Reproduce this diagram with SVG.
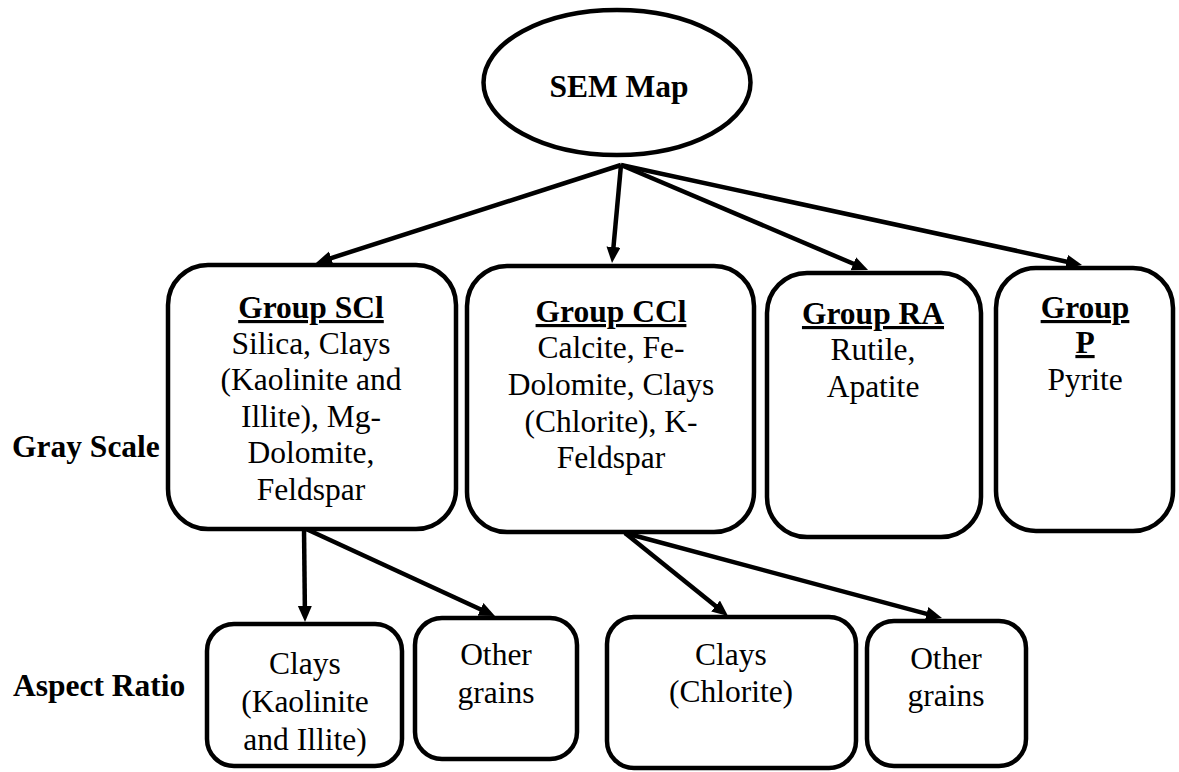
<svg xmlns="http://www.w3.org/2000/svg" width="1179" height="772" viewBox="0 0 1179 772" font-family="'Liberation Serif', 'DejaVu Serif', serif">
<style>
  .shape { fill: #ffffff; stroke: #000000; stroke-width: 4.5; }
  .conn { stroke: #000000; stroke-width: 4.5; fill: none; marker-end: url(#arrow); }
  text { font-size: 31.5px; fill: #000000; text-anchor: middle; }
  .b { font-weight: bold; }
  .u { font-weight: bold; text-decoration: underline; text-decoration-thickness: 3px; }
  .side { text-anchor: start; font-weight: bold; }
</style>
<defs>
  <marker id="arrow" markerUnits="userSpaceOnUse" markerWidth="17" markerHeight="15" refX="4" refY="7" orient="auto">
    <path d="M0,0 L16,7 L0,14 z" fill="#000000"/>
  </marker>
</defs>
<rect width="1179" height="772" fill="#ffffff"/>

<g id="connectors">
  <line class="conn" x1="621" y1="165" x2="327.4" y2="259.3"/>
  <line class="conn" x1="621" y1="165" x2="613.1" y2="251"/>
  <line class="conn" x1="621" y1="165" x2="857" y2="265.3"/>
  <line class="conn" x1="621" y1="165" x2="1070.3" y2="262.5"/>
  <line class="conn" x1="304" y1="528" x2="304.9" y2="610"/>
  <line class="conn" x1="304" y1="528" x2="484.1" y2="611"/>
  <line class="conn" x1="625" y1="533" x2="718.7" y2="608.5"/>
  <line class="conn" x1="625" y1="533" x2="930.4" y2="614.9"/>
</g>

<g id="sem-map">
  <ellipse class="shape" cx="617" cy="82.5" rx="133.5" ry="72.5"/>
  <text class="b" x="619" y="97">SEM Map</text>
</g>

<g id="group-scl">
  <rect class="shape" x="168" y="265" width="288" height="264" rx="40" ry="40"/>
  <text class="u" x="311" y="318">Group SCl</text>
  <text x="311" y="354">Silica, Clays</text>
  <text x="311" y="390">(Kaolinite and</text>
  <text x="311" y="427">Illite), Mg-</text>
  <text x="311" y="463">Dolomite,</text>
  <text x="311" y="500">Feldspar</text>
</g>

<g id="group-ccl">
  <rect class="shape" x="467" y="266" width="287" height="266" rx="40" ry="40"/>
  <text class="u" x="611" y="322">Group CCl</text>
  <text x="611" y="358">Calcite, Fe-</text>
  <text x="611" y="395">Dolomite, Clays</text>
  <text x="611" y="432">(Chlorite), K-</text>
  <text x="611" y="468">Feldspar</text>
</g>

<g id="group-ra">
  <rect class="shape" x="767" y="273" width="214" height="264" rx="40" ry="40"/>
  <text class="u" x="873" y="324">Group RA</text>
  <text x="873" y="360">Rutile,</text>
  <text x="873" y="397">Apatite</text>
</g>

<g id="group-p">
  <rect class="shape" x="996" y="268" width="177" height="263" rx="40" ry="40"/>
  <text class="u" x="1085" y="318">Group</text>
  <text class="u" x="1085" y="353">P</text>
  <text x="1085" y="390">Pyrite</text>
</g>

<g id="clays-kaolinite-illite">
  <rect class="shape" x="207" y="624" width="195" height="142" rx="27" ry="27"/>
  <text x="305" y="674">Clays</text>
  <text x="305" y="712">(Kaolinite</text>
  <text x="305" y="750">and Illite)</text>
</g>

<g id="other-grains-1">
  <rect class="shape" x="415" y="618" width="162" height="141" rx="27" ry="27"/>
  <text x="496" y="665">Other</text>
  <text x="496" y="703">grains</text>
</g>

<g id="clays-chlorite">
  <rect class="shape" x="607" y="617" width="249" height="151" rx="27" ry="27"/>
  <text x="731" y="665">Clays</text>
  <text x="731" y="702">(Chlorite)</text>
</g>

<g id="other-grains-2">
  <rect class="shape" x="867" y="621" width="159" height="145" rx="27" ry="27"/>
  <text x="946" y="669">Other</text>
  <text x="946" y="706">grains</text>
</g>

<g id="labels">
  <text class="side" x="12" y="457">Gray Scale</text>
  <text class="side" x="13" y="696">Aspect Ratio</text>
</g>
</svg>
